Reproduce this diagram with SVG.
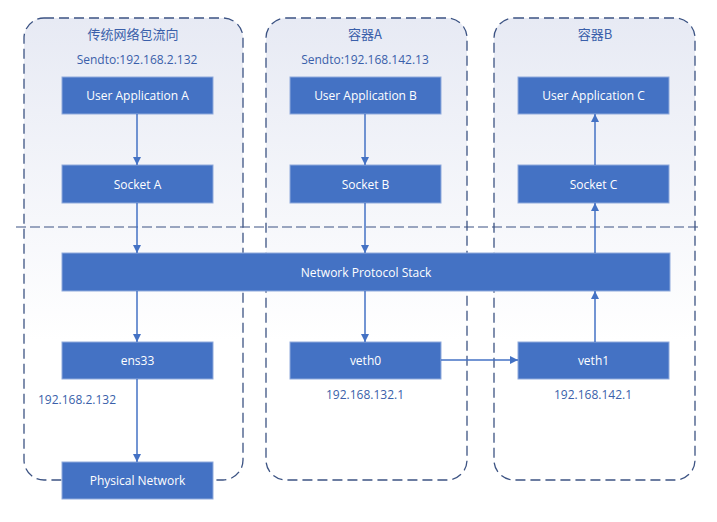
<svg xmlns="http://www.w3.org/2000/svg" width="717" height="522" viewBox="0 0 717 522">
<defs>
<linearGradient id="bg" x1="0" y1="0" x2="0" y2="1">
<stop offset="0" stop-color="#E7EAF4"/>
<stop offset="0.7" stop-color="#FFFFFF"/>
<stop offset="1" stop-color="#FFFFFF"/>
</linearGradient>
<marker id="ah" viewBox="0 0 10 10" refX="10" refY="5" markerWidth="8" markerHeight="8" markerUnits="userSpaceOnUse" orient="auto">
<path d="M0,0 L10,5 L0,10 z" fill="#4472C4"/>
</marker>
<style>
.cont{fill:url(#bg);stroke:#3C5383;stroke-width:1.3;stroke-dasharray:10,5}
.box{fill:#4472C4;stroke:#8FAADC;stroke-width:1}
.bt{fill:#FFFFFF;font-family:"Open Sans","Noto Sans","Liberation Sans",sans-serif;font-size:12px;text-anchor:middle;dominant-baseline:central}
.lt{fill:#3A5FAA;font-family:"Open Sans","Noto Sans","Liberation Sans","Noto Sans CJK SC",sans-serif;font-size:12px;text-anchor:middle;dominant-baseline:central}
.ct{fill:#3A5FAA;font-family:"Noto Sans CJK SC","Open Sans",sans-serif;font-size:13px;text-anchor:middle;dominant-baseline:central}
.c{stroke:#4472C4;stroke-width:1.5;fill:none;marker-end:url(#ah)}
</style>
</defs>
<rect width="717" height="522" fill="#FFFFFF"/>
<g id="container-traditional">
<rect class="cont" x="24" y="18" width="219" height="462" rx="20"/>
<text class="ct" x="133" y="33">传统网络包流向</text>
<text class="lt" x="137" y="59">Sendto:192.168.2.132</text>
<text class="lt" x="38" y="399" style="text-anchor:start">192.168.2.132</text>
</g>
<g id="container-a">
<rect class="cont" x="266" y="18" width="201" height="462" rx="20"/>
<text class="ct" x="365" y="33">容器A</text>
<text class="lt" x="365" y="59">Sendto:192.168.142.13</text>
<text class="lt" x="365" y="394">192.168.132.1</text>
</g>
<g id="container-b">
<rect class="cont" x="494" y="18" width="201" height="462" rx="20"/>
<text class="ct" x="595" y="33">容器B</text>
<text class="lt" x="593" y="394">192.168.142.1</text>
</g>
<g id="separator">
<line x1="16" y1="227" x2="700" y2="227" stroke="#3C5383" stroke-width="1.2" stroke-dasharray="10,4"/>
</g>
<g id="app-a"><rect class="box" x="62" y="77" width="151" height="37"/><text class="bt" x="137.5" y="95.5">User Application A</text></g>
<g id="app-b"><rect class="box" x="290" y="77" width="151" height="37"/><text class="bt" x="365.5" y="95.5">User Application B</text></g>
<g id="app-c"><rect class="box" x="518" y="77" width="151" height="37"/><text class="bt" x="593.5" y="95.5">User Application C</text></g>
<g id="socket-a"><rect class="box" x="62" y="165" width="151" height="38"/><text class="bt" x="137.5" y="184">Socket A</text></g>
<g id="socket-b"><rect class="box" x="290" y="165" width="151" height="38"/><text class="bt" x="365.5" y="184">Socket B</text></g>
<g id="socket-c"><rect class="box" x="518" y="165" width="151" height="38"/><text class="bt" x="593.5" y="184">Socket C</text></g>
<g id="stack"><rect class="box" x="62" y="253" width="608" height="38"/><text class="bt" x="366" y="272">Network Protocol Stack</text></g>
<g id="ens33"><rect class="box" x="62" y="342" width="151" height="37"/><text class="bt" x="137.5" y="360.5">ens33</text></g>
<g id="veth0"><rect class="box" x="290" y="342" width="151" height="37"/><text class="bt" x="365.5" y="360.5">veth0</text></g>
<g id="veth1"><rect class="box" x="518" y="342" width="151" height="37"/><text class="bt" x="593.5" y="360.5">veth1</text></g>
<g id="physical"><rect class="box" x="62" y="462" width="151" height="37"/><text class="bt" x="137.5" y="480.5">Physical Network</text></g>
<g id="connectors">
<line class="c" x1="137" y1="114" x2="137" y2="165"/>
<line class="c" x1="137" y1="203" x2="137" y2="253"/>
<line class="c" x1="137" y1="291" x2="137" y2="342"/>
<line class="c" x1="137" y1="379" x2="137" y2="462"/>
<line class="c" x1="365" y1="114" x2="365" y2="165"/>
<line class="c" x1="365" y1="203" x2="365" y2="253"/>
<line class="c" x1="365" y1="291" x2="365" y2="342"/>
<line class="c" x1="441" y1="360" x2="518" y2="360"/>
<line class="c" x1="595" y1="342" x2="595" y2="291"/>
<line class="c" x1="595" y1="253" x2="595" y2="203"/>
<line class="c" x1="595" y1="165" x2="595" y2="114"/>
</g>
</svg>
